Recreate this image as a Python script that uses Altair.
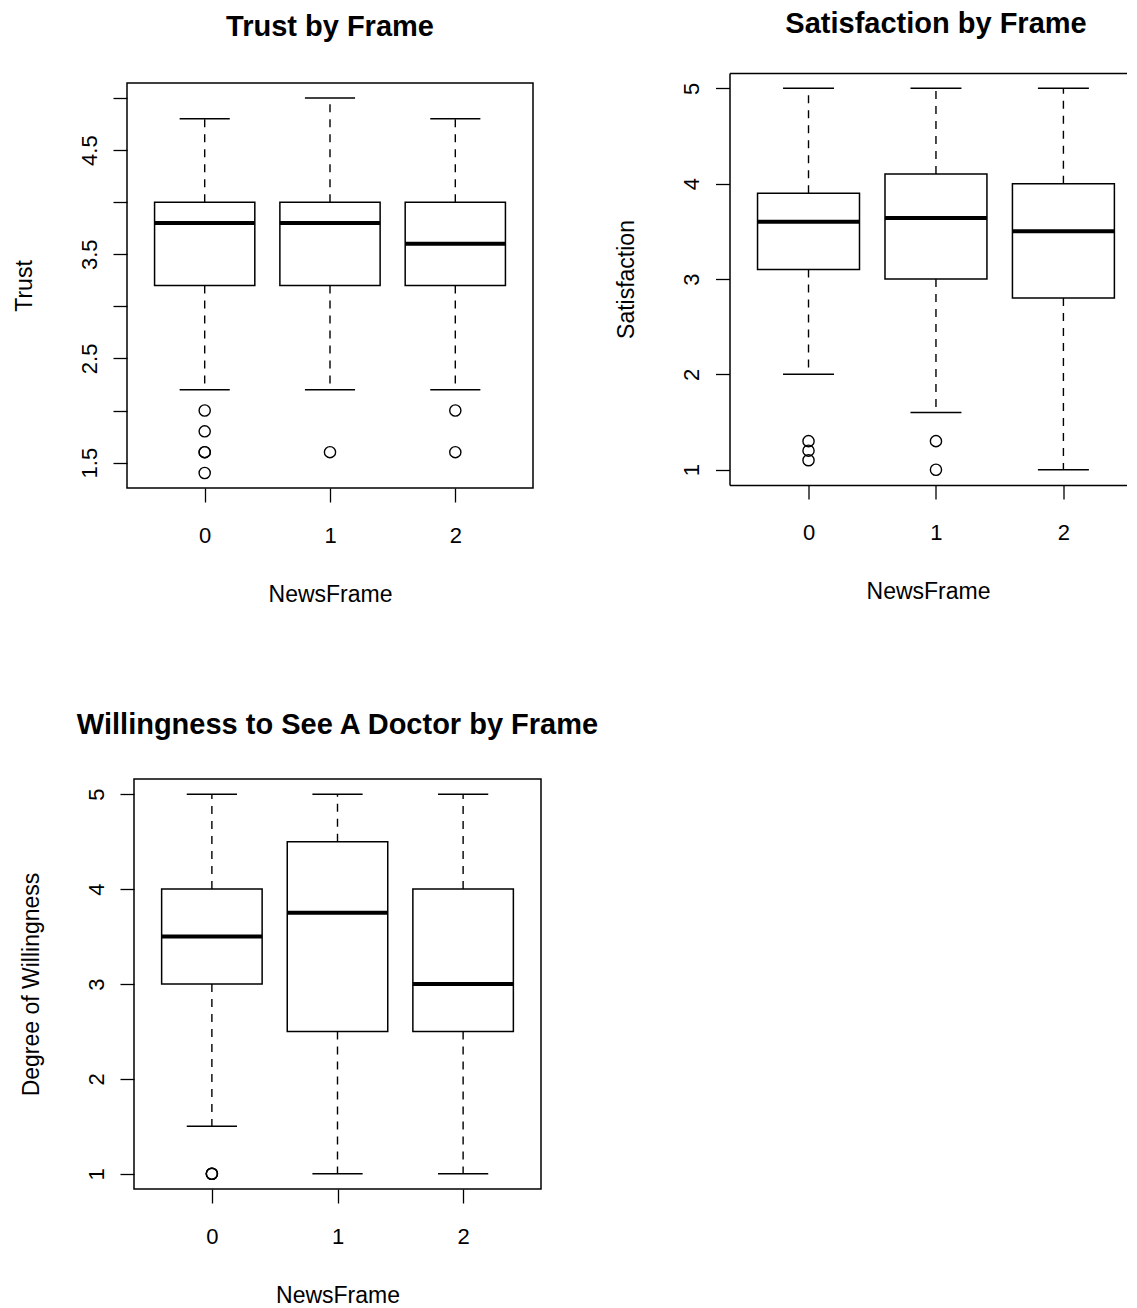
import altair as alt
import pandas as pd

FONT = "Liberation Sans"

# ---------------- data ----------------
frames = [0, 1, 2]

# Trust by Frame
trust_lower = [2.2, 2.2, 2.2]
trust_q1 = [3.2, 3.2, 3.2]
trust_median = [3.8, 3.8, 3.6]
trust_q3 = [4.0, 4.0, 4.0]
trust_upper = [4.8, 5.0, 4.8]
trust_out_frame = [0, 0, 0, 0, 0, 1, 2, 2]
trust_out_value = [2.0, 1.8, 1.6, 1.6, 1.4, 1.6, 2.0, 1.6]
trust_ticks = [1.5, 2.0, 2.5, 3.0, 3.5, 4.0, 4.5, 5.0]
trust_domain = [1.256, 5.144]

# Satisfaction by Frame
sat_lower = [2.0, 1.6, 1.0]
sat_q1 = [3.1, 3.0, 2.8]
sat_median = [3.6, 3.64, 3.5]
sat_q3 = [3.9, 4.1, 4.0]
sat_upper = [5.0, 5.0, 5.0]
sat_out_frame = [0, 0, 0, 1, 1]
sat_out_value = [1.3, 1.2, 1.1, 1.3, 1.0]
sat_ticks = [1, 2, 3, 4, 5]
sat_domain = [0.84, 5.16]

# Willingness to See A Doctor by Frame
will_lower = [1.5, 1.0, 1.0]
will_q1 = [3.0, 2.5, 2.5]
will_median = [3.5, 3.75, 3.0]
will_q3 = [4.0, 4.5, 4.0]
will_upper = [5.0, 5.0, 5.0]
will_out_frame = [0, 0, 0]
will_out_value = [1.0, 1.0, 1.0]
will_ticks = [1, 2, 3, 4, 5]
will_domain = [0.84, 5.16]

x_domain_full = [-0.62, 2.62]
x_domain_cut = [-0.62, 2.495]   # right panel is cut off at the image edge


def panel(title, ytitle, lower, q1, med, q3, upper, out_f, out_v, ticks,
          domain, width, height, title_offset, yfmt, label_expr=None,
          cut=False, title_dx=0):
    stats = pd.DataFrame({"frame": frames, "lower": lower, "q1": q1,
                          "median": med, "q3": q3, "upper": upper})
    outs = pd.DataFrame({"frame": out_f, "value": out_v})
    xscale = alt.Scale(domain=x_domain_cut if cut else x_domain_full,
                       nice=False, zero=False)
    yscale = alt.Scale(domain=domain, nice=False, zero=False)
    frame_line = dict(domain=True, domainColor="black", domainWidth=1.5) if cut else {}
    xaxis = alt.Axis(values=frames, format="d", title="NewsFrame",
                     labelPadding=23, titlePadding=37, **frame_line)
    yargs = dict(values=ticks, format=yfmt, title=ytitle, labelAngle=270,
                 labelAlign="center", labelBaseline="bottom",
                 labelPadding=12, titlePadding=42, **frame_line)
    if label_expr:
        yargs["labelExpr"] = label_expr
    yaxis = alt.Axis(**yargs)

    base = alt.Chart(stats).transform_calculate(
        box_lo="datum.frame - 0.4", box_hi="datum.frame + 0.4",
        cap_lo="datum.frame - 0.2", cap_hi="datum.frame + 0.2")

    def X(f, first=False):
        if cut and not first:
            return alt.X(f, scale=xscale, axis=None)
        return alt.X(f, scale=xscale, axis=xaxis)

    Y = lambda f: alt.Y(f, scale=yscale, axis=yaxis)

    whisk_up = base.mark_rule(color="black", strokeWidth=1.4,
                              strokeDash=[8, 7]).encode(
        x=X("frame:Q", first=True), y=Y("q3:Q"), y2="upper:Q")
    whisk_dn = base.mark_rule(color="black", strokeWidth=1.4,
                              strokeDash=[8, 7]).encode(
        x=X("frame:Q"), y=Y("q1:Q"), y2="lower:Q")
    box = base.mark_rect(fill="white", stroke="black", strokeWidth=1.5).encode(
        x=X("box_lo:Q"), x2="box_hi:Q", y=Y("q1:Q"), y2="q3:Q")
    median = base.mark_rule(color="black", strokeWidth=4, strokeCap="butt").encode(
        x=X("box_lo:Q"), x2="box_hi:Q", y=Y("median:Q"))
    cap_up = base.mark_rule(color="black", strokeWidth=1.5).encode(
        x=X("cap_lo:Q"), x2="cap_hi:Q", y=Y("upper:Q"))
    cap_dn = base.mark_rule(color="black", strokeWidth=1.5).encode(
        x=X("cap_lo:Q"), x2="cap_hi:Q", y=Y("lower:Q"))
    pts = alt.Chart(outs).mark_point(filled=False, color="black", size=125,
                                     strokeWidth=1.4, opacity=1).encode(
        x=X("frame:Q"), y=Y("value:Q"))

    layers = [whisk_up, whisk_dn, box, median, cap_up, cap_dn, pts]
    if cut:
        # top frame line drawn as a bare top axis (panel is cut on the right)
        top_axis = alt.Axis(orient="top", labels=False, ticks=False, grid=False,
                            domain=True, domainColor="black", domainWidth=1.5,
                            title=None)
        top = base.mark_point(opacity=0, size=0).encode(
            x=alt.X("frame:Q", scale=xscale, axis=top_axis), y=Y("median:Q"))
        layers.append(top)

    ch = alt.layer(*layers).properties(
        width=width, height=height,
        title=alt.TitleParams(text=title, offset=title_offset, dx=title_dx))
    if cut:
        ch = ch.resolve_axis(x="independent").properties(
            view=alt.ViewBackground(stroke="transparent", strokeWidth=0))
    return ch


def spacer(w, h):
    return alt.Chart(pd.DataFrame({"s": [0]})).mark_point(
        opacity=0, size=0, strokeWidth=0).encode(
        x=alt.value(0), y=alt.value(0)
    ).properties(width=w, height=h,
                 view=alt.ViewBackground(stroke="transparent", strokeWidth=0))


p1 = panel("Trust by Frame", "Trust", trust_lower, trust_q1, trust_median,
           trust_q3, trust_upper, trust_out_frame, trust_out_value,
           trust_ticks, trust_domain, 406, 405, 41.5, ".1f",
           label_expr="datum.value % 1 == 0.5 ? datum.label : ''")
p2 = panel("Satisfaction by Frame", "Satisfaction", sat_lower, sat_q1,
           sat_median, sat_q3, sat_upper, sat_out_frame, sat_out_value,
           sat_ticks, sat_domain, 397, 412, 34.5, "d", cut=True, title_dx=8)
p3 = panel("Willingness to See A Doctor by Frame", "Degree of Willingness",
           will_lower, will_q1, will_median, will_q3, will_upper,
           will_out_frame, will_out_value, will_ticks, will_domain,
           407, 410, 39.5, "d")

col1 = alt.vconcat(spacer(406, 2.5), p1, spacing=0)
col2 = alt.vconcat(spacer(397, 0.5), p2, spacing=0)
row1 = alt.hconcat(col1, col2, spacing=81.5)
row2 = alt.hconcat(spacer(1, 1), p3, spacing=-109)

chart = alt.vconcat(row1, row2, spacing=102).properties(
    padding={"left": 4, "top": 0, "right": 0, "bottom": 0}
).configure(
    font=FONT, background="white"
).configure_view(
    stroke="black", strokeWidth=1.5
).configure_axis(
    labelFont=FONT, titleFont=FONT, labelFontSize=22, titleFontSize=23,
    titleFontWeight="normal", labelColor="black", titleColor="black",
    tickColor="black", tickSize=14, tickWidth=1.3, domain=False, grid=False
).configure_title(
    font=FONT, fontSize=29, fontWeight="bold", color="black",
    anchor="middle", baseline="bottom"
)

chart.save("out.html", embed_options={"renderer": "svg", "actions": False})
